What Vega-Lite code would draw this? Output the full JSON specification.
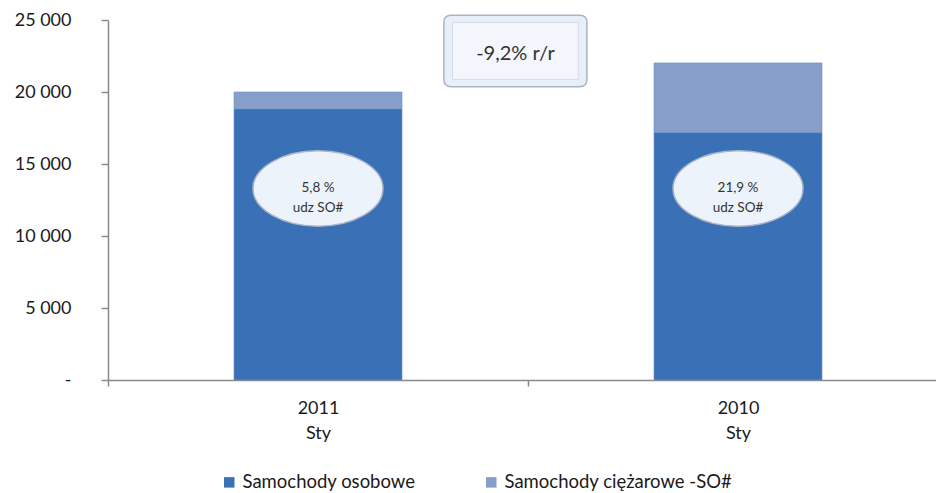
{
  "$schema": "https://vega.github.io/schema/vega-lite/v6.json",
  "width": 840,
  "height": 360,
  "autosize": {"type": "none"},
  "padding": {"left": 108, "top": 20, "right": 0, "bottom": 113},
  "background": "white",
  "config": {
    "view": {"stroke": null},
    "font": "Lato",
    "axis": {"grid": false, "domainColor": "#8a8a8a", "tickColor": "#8a8a8a", "labelColor": "#1a1a1a", "labelFont": "Lato", "titleFont": "Lato"}
  },
  "datasets": {
    "bars": [
      {"okres": "2011|Sty", "rodzaj": "Samochody osobowe", "kolejnosc": 1, "liczba": 18840},
      {"okres": "2011|Sty", "rodzaj": "Samochody ciężarowe -SO#", "kolejnosc": 2, "liczba": 1160},
      {"okres": "2010|Sty", "rodzaj": "Samochody osobowe", "kolejnosc": 1, "liczba": 17200},
      {"okres": "2010|Sty", "rodzaj": "Samochody ciężarowe -SO#", "kolejnosc": 2, "liczba": 4820}
    ],
    "udzial": [
      {"okres": "2011|Sty", "poziom": 13300, "tekst": "5,8 %\nudz SO#"},
      {"okres": "2010|Sty", "poziom": 13300, "tekst": "21,9 %\nudz SO#"}
    ],
    "rr": [
      {"okres": "2011|Sty", "poziom": 22850, "tekst": "-9,2% r/r"}
    ]
  },
  "encoding": {
    "x": {
      "field": "okres",
      "type": "nominal",
      "sort": ["2011|Sty", "2010|Sty"],
      "scale": {"paddingInner": 0, "paddingOuter": 0},
      "axis": {
        "title": null,
        "labelAngle": 0,
        "labelExpr": "split(datum.label, '|')",
        "labelFontSize": 18,
        "labelLineHeight": 25,
        "labelPadding": 13,
        "tickBand": "extent",
        "tickSize": 6,
        "domainWidth": 1.5,
        "tickWidth": 1.5
      }
    }
  },
  "layer": [
    {
      "data": {"name": "bars"},
      "mark": {"type": "bar", "width": {"band": 0.4}, "stroke": "#6E95CB", "strokeWidth": 0.8, "strokeOpacity": 0.8},
      "encoding": {
        "y": {
          "field": "liczba",
          "type": "quantitative",
          "stack": "zero",
          "scale": {"domain": [0, 25000], "nice": false, "zero": true},
          "axis": {
            "title": null,
            "values": [0, 5000, 10000, 15000, 20000, 25000],
            "labelExpr": "datum.value == 0 ? '-\u00a0\u00a0' : replace(format(datum.value, ',.0f'), ',', ' ')",
            "labelFontSize": 18,
            "labelPadding": 30,
            "tickSize": 7,
            "domainWidth": 1.5,
            "tickWidth": 1.5
          }
        },
        "color": {
          "field": "rodzaj",
          "type": "nominal",
          "scale": {"domain": ["Samochody osobowe", "Samochody ciężarowe -SO#"], "range": ["#3A70B6", "#869EC9"]},
          "legend": {
            "title": null,
            "orient": "none",
            "direction": "horizontal",
            "legendX": 112,
            "legendY": 453,
            "symbolType": "square",
            "symbolSize": 110,
            "symbolStrokeWidth": 0,
            "labelFontSize": 18.5,
            "labelFont": "Lato",
            "labelColor": "#1a1a1a",
            "columnPadding": 66,
            "labelLimit": 300
          }
        },
        "order": {"field": "kolejnosc", "type": "quantitative"}
      }
    },
    {
      "data": {"name": "udzial"},
      "mark": {
        "type": "point",
        "shape": "M -1 0 C -1 -0.32 -0.552 -0.58 0 -0.58 C 0.552 -0.58 1 -0.32 1 0 C 1 0.32 0.552 0.58 0 0.58 C -0.552 0.58 -1 0.32 -1 0 Z",
        "size": 16900,
        "filled": true,
        "fill": "#EDF3FB",
        "opacity": 1,
        "stroke": "#A9B5C6",
        "strokeWidth": 1.5
      },
      "encoding": {
        "y": {"field": "poziom", "type": "quantitative"}
      }
    },
    {
      "data": {"name": "udzial"},
      "mark": {"type": "text", "lineBreak": "\n", "fontSize": 13.5, "lineHeight": 20, "baseline": "middle", "align": "center", "color": "#333333", "font": "Lato"},
      "encoding": {
        "y": {"field": "poziom", "type": "quantitative"},
        "text": {"field": "tekst", "type": "nominal"}
      }
    },
    {
      "data": {"name": "rr"},
      "mark": {
        "type": "point",
        "shape": "M -0.9 -0.5 L 0.9 -0.5 Q 1 -0.5 1 -0.4 L 1 0.4 Q 1 0.5 0.9 0.5 L -0.9 0.5 Q -1 0.5 -1 0.4 L -1 -0.4 Q -1 -0.5 -0.9 -0.5 Z",
        "size": 20449,
        "filled": true,
        "fill": "#E9EFF8",
        "opacity": 1,
        "stroke": "#A9B5C6",
        "strokeWidth": 1.5
      },
      "encoding": {
        "x": {"field": "okres", "type": "nominal", "sort": ["2011|Sty", "2010|Sty"], "bandPosition": 0.97},
        "y": {"field": "poziom", "type": "quantitative"}
      }
    },
    {
      "data": {"name": "rr"},
      "mark": {
        "type": "point",
        "shape": "M -0.88 -0.4 L 0.88 -0.4 L 0.88 0.4 L -0.88 0.4 Z",
        "size": 20449,
        "filled": true,
        "fill": "#F3F7FD",
        "opacity": 1,
        "stroke": "#D3DCE8",
        "strokeWidth": 1
      },
      "encoding": {
        "x": {"field": "okres", "type": "nominal", "sort": ["2011|Sty", "2010|Sty"], "bandPosition": 0.97},
        "y": {"field": "poziom", "type": "quantitative"}
      }
    },
    {
      "data": {"name": "rr"},
      "mark": {"type": "text", "fontSize": 20, "baseline": "middle", "align": "center", "color": "#333333", "font": "Lato", "dy": 3},
      "encoding": {
        "x": {"field": "okres", "type": "nominal", "sort": ["2011|Sty", "2010|Sty"], "bandPosition": 0.97},
        "y": {"field": "poziom", "type": "quantitative"},
        "text": {"field": "tekst", "type": "nominal"}
      }
    }
  ]
}
